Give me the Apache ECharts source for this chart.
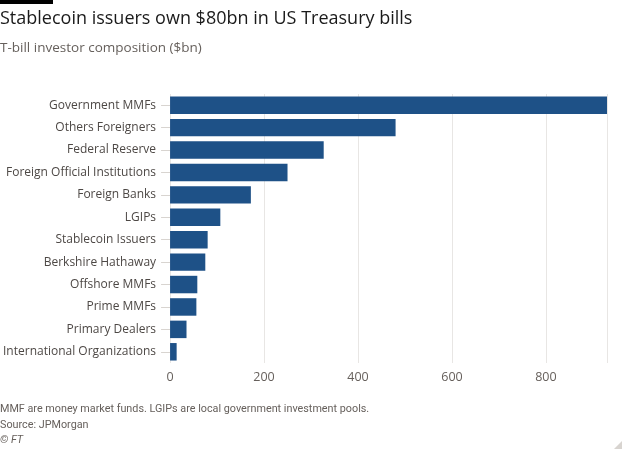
<!DOCTYPE html>
<html>
<head>
<meta charset="utf-8">
<script src="https://cdn.jsdelivr.net/npm/echarts@6/dist/echarts.min.js"></script>
<style>
html,body{margin:0;padding:0;background:#fff;}
#c{width:630px;height:450px;}
</style>
</head>
<body>
<div id="c"></div>
<script>
var categories = ["Government MMFs","Others Foreigners","Federal Reserve","Foreign Official Institutions","Foreign Banks","LGIPs","Stablecoin Issuers","Berkshire Hathaway","Offshore MMFs","Prime MMFs","Primary Dealers","International Organizations"];
var values = [930, 480, 327, 250, 172, 107, 80, 75, 58, 56, 35, 14];
var xTicks = [0, 200, 400, 600, 800];

var chart = echarts.init(document.getElementById('c'), null, {renderer:'canvas'});
var font = "'Open Sans', 'Noto Sans', sans-serif";
var narrow = "Roboto, 'Open Sans', sans-serif";
chart.setOption({
  backgroundColor: '#ffffff',
  animation: false,
  graphic: [
    {type:'rect', left:0, top:0, shape:{width:53, height:4}, style:{fill:'#000'}},
    {type:'text', left:0, top:10, style:{text:'Stablecoin issuers own $80bn in US Treasury bills', fill:'#1a1a1a', font:"18px " + font}},
    {type:'text', left:0, top:41, style:{text:'T-bill investor composition ($bn)', fill:'#66605c', font:"13.5px " + font}},
    {type:'text', left:0, top:404, style:{text:'MMF are money market funds. LGIPs are local government investment pools.', fill:'#66605c', font:"10.8px " + narrow}},
    {type:'text', left:0, top:420, style:{text:'Source: JPMorgan', fill:'#66605c', font:"10.8px " + narrow}},
    {type:'text', left:0, top:435, style:{text:'© FT', fill:'#66605c', font:"italic 10.8px " + narrow}},
    {type:'polygon', shape:{points:[[622,441],[614,449],[622,449]]}, style:{fill:'#d8d4d0'}}
  ],
  grid: {left:169, right:23, top:94, bottom:87, containLabel:false},
  xAxis: {
    type:'value', min:0, max:930, interval:200,
    axisLine:{show:false}, axisTick:{show:false},
    splitLine:{show:true, lineStyle:{color:'#e8e6e4', width:1}},
    axisLabel:{color:'#66605c', fontSize:12.5, fontFamily:font, margin:8,
      formatter:function(v){ return xTicks.indexOf(v) >= 0 ? String(v) : ''; }},
    showMaxLabel:false
  },
  yAxis: {
    type:'category', data:categories, inverse:true,
    axisLine:{show:false},
    axisTick:{show:true, alignWithLabel:true, length:9, lineStyle:{color:'#d8d4d0'}},
    axisLabel:{color:'#4d4845', fontSize:12, fontFamily:font, margin:14}
  },
  series: [{
    type:'bar', data:values, barCategoryGap:'22%',
    itemStyle:{color:'#1e5187'},
    silent:true
  }]
});
</script>
</body>
</html>
